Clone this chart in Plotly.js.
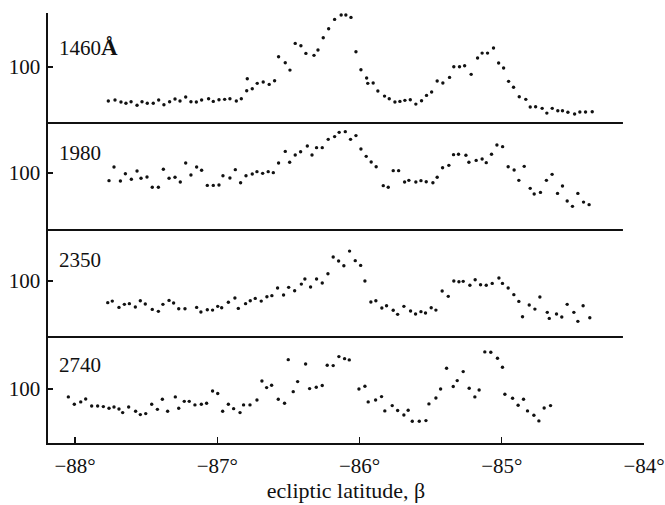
<!DOCTYPE html>
<html>
<head>
<meta charset="utf-8">
<script src="https://cdn.plot.ly/plotly-3.0.1.min.js"></script>
<style>html,body{margin:0;padding:0;background:#fff;}#chart{width:665px;height:505px;}</style>
</head>
<body>
<div id="chart"></div>
<script>
// ---- data (ecliptic latitude in degrees, relative intensity; "100" marks the reference level) ----
var panelLabels = ['1460<span style="font-size:23px"><b>Å</b></span>', '1980', '2350', '2740'];
var xTickVals = [-88, -87, -86, -85, -84];
var xTickText = ['\u221288\u00b0', '\u221287\u00b0', '\u221286\u00b0', '\u221285\u00b0', '\u221284\u00b0'];
var yTickVals = [100];
var yTickText = ['100'];

var beta1460 = [-87.766,-87.719,-87.677,-87.642,-87.606,-87.564,-87.529,-87.492,-87.450,-87.412,
 -87.375,-87.335,-87.297,-87.262,-87.222,-87.185,-87.147,-87.110,-87.061,-87.028,
 -86.988,-86.948,-86.911,-86.866,-86.831,-86.793,-86.789,-86.754,-86.719,-86.677,
 -86.635,-86.597,-86.569,-86.522,-86.489,-86.452,-86.412,-86.377,-86.320,-86.292,
 -86.255,-86.217,-86.175,-86.129,-86.096,-86.060,-86.025,
 -85.990,-85.950,-85.942,-85.904,-85.871,-85.824,-85.791,-85.751,-85.716,-85.681,
 -85.643,-85.604,-85.564,-85.529,-85.493,-85.454,-85.414,-85.367,-85.337,-85.297,
 -85.261,-85.215,-85.170,-85.138,-85.100,-85.058,-85.022,-84.987,-84.952,-84.917,
 -84.877,-84.831,-84.800,-84.762,-84.716,-84.683,-84.645,-84.606,-84.573,-84.535,
 -84.488,-84.451,-84.411,-84.364];
var int1460 = [69.8,70.7,68.9,67.8,69.2,66.0,69.2,67.8,67.8,70.7,
 66.5,69.2,71.6,69.8,73.4,69.2,68.9,70.7,71.9,69.5,
 71.0,71.3,71.9,69.8,71.9,79.0,89.6,80.7,85.5,86.7,
 84.6,87.8,109.2,103.8,97.3,121.0,118.9,112.1,110.4,115.1,
 126.0,134.0,142.3,146.2,146.2,144.1,113.6,
 97.6,90.2,85.5,85.8,78.7,74.2,71.9,68.9,69.5,70.4,
 71.0,67.1,70.1,74.8,77.8,87.6,85.8,90.8,100.3,100.3,
 101.2,93.5,108.0,112.4,112.4,116.9,103.6,99.1,87.3,82.0,
 73.6,71.3,64.5,64.7,63.3,59.1,63.3,61.2,61.2,59.8,
 58.3,60.0,60.0,60.3];

var beta1980 = [-87.761,-87.726,-87.681,-87.646,-87.604,-87.564,-87.536,-87.494,-87.457,-87.414,
 -87.379,-87.339,-87.297,-87.260,-87.222,-87.185,-87.145,-87.110,-87.070,-87.028,
 -86.988,-86.960,-86.911,-86.873,-86.836,-86.798,-86.754,-86.721,-86.681,-86.642,
 -86.606,-86.569,-86.522,-86.491,-86.452,-86.414,-86.367,-86.334,-86.302,-86.262,
 -86.220,-86.175,-86.143,-86.100,-86.063,-86.025,
 -85.990,-85.953,-85.918,-85.883,-85.833,-85.798,-85.763,-85.725,-85.683,-85.653,
 -85.604,-85.568,-85.531,-85.484,-85.454,-85.416,-85.372,-85.339,-85.304,-85.252,
 -85.231,-85.180,-85.138,-85.109,-85.072,-85.034,-84.994,-84.955,-84.913,-84.880,
 -84.842,-84.800,-84.772,-84.728,-84.686,-84.646,-84.608,-84.573,-84.540,-84.503,
 -84.465,-84.425,-84.386];
var int1980 = [93.2,105.3,92.9,99.4,94.4,101.8,95.3,96.4,87.3,87.3,
 103.3,95.3,96.2,92.0,108.9,98.2,105.3,102.4,89.0,89.0,
 89.3,97.6,95.6,103.0,91.4,97.6,99.1,101.2,99.7,101.2,
 100.3,108.9,119.2,109.5,116.0,118.9,124.0,116.0,122.5,122.5,
 129.9,132.3,136.1,136.7,129.9,133.2,
 121.3,114.8,109.8,105.6,88.8,87.3,102.1,102.1,92.0,93.5,
 92.0,93.2,92.3,91.4,96.2,104.7,106.8,116.3,116.6,115.7,
 109.5,111.2,112.4,109.2,116.6,124.9,123.4,105.6,102.7,93.5,
 105.9,86.4,81.4,82.8,93.5,98.8,81.9,88.5,75.1,70.4,
 81.9,74.2,71.9];

var beta2350 = [-87.770,-87.738,-87.691,-87.653,-87.618,-87.576,-87.541,-87.506,-87.457,-87.414,
 -87.382,-87.339,-87.307,-87.271,-87.227,-87.145,-87.115,-87.070,-87.033,-86.997,
 -86.969,-86.922,-86.876,-86.852,-86.801,-86.768,-86.733,-86.691,-86.651,-86.616,
 -86.576,-86.534,-86.498,-86.456,-86.409,-86.384,-86.344,-86.302,-86.262,-86.222,
 -86.185,-86.147,-86.110,-86.070,-86.030,
 -85.992,-85.962,-85.920,-85.885,-85.843,-85.810,-85.763,-85.732,-85.688,-85.641,
 -85.606,-85.568,-85.536,-85.496,-85.463,-85.419,-85.376,-85.337,-85.301,-85.271,
 -85.224,-85.187,-85.149,-85.109,-85.067,-85.020,-84.995,-84.955,-84.915,-84.880,
 -84.854,-84.807,-84.767,-84.732,-84.680,-84.666,-84.615,-84.578,-84.540,-84.493,
 -84.465,-84.428,-84.381];
var int2350 = [80.8,82.2,76.6,79.3,79.9,76.9,82.5,79.6,74.8,73.1,
 79.3,82.8,80.5,75.4,75.4,76.6,72.5,74.5,74.2,77.5,
 76.3,81.1,84.9,75.7,79.9,82.5,84.6,82.2,86.1,87.0,
 93.8,87.6,94.4,91.4,97.3,101.8,94.7,101.8,98.2,106.5,
 121.3,117.8,113.6,126.6,118.1,
 113.9,100.0,81.4,82.5,76.0,78.1,74.0,70.4,77.5,73.4,
 70.7,72.8,71.6,76.3,74.2,91.1,86.4,100.0,99.4,99.7,
 96.2,101.2,96.7,96.2,97.9,102.7,97.9,93.8,87.9,81.9,
 68.3,78.7,75.1,85.8,72.2,66.8,70.7,68.0,79.3,72.2,
 64.2,78.1,67.4];

var beta2740 = [-88.047,-88.005,-87.960,-87.925,-87.883,-87.841,-87.801,-87.761,-87.726,-87.691,
 -87.665,-87.623,-87.574,-87.541,-87.503,-87.461,-87.421,-87.386,-87.349,-87.295,
 -87.271,-87.232,-87.197,-87.157,-87.112,-87.075,-87.033,-86.997,-86.962,-86.922,
 -86.885,-86.840,-86.815,-86.770,-86.721,-86.686,-86.653,-86.618,-86.571,-86.527,
 -86.501,-86.466,-86.435,-86.379,-86.351,-86.304,-86.262,-86.227,-86.185,-86.145,
 -86.105,-86.072,-86.004,
 -85.962,-85.939,-85.887,-85.845,-85.822,-85.770,-85.732,-85.688,-85.658,-85.629,
 -85.580,-85.533,-85.512,-85.463,-85.430,-85.388,-85.341,-85.313,-85.271,-85.229,
 -85.189,-85.159,-85.119,-85.077,-85.030,-84.995,-84.978,-84.924,-84.885,-84.847,
 -84.819,-84.774,-84.739,-84.702,-84.657];
var int2740 = [92.9,86.4,88.5,91.1,84.9,84.9,84.3,82.8,84.0,82.2,
 79.0,84.0,80.2,77.2,78.1,86.4,81.9,90.8,80.2,92.9,
 82.8,89.0,89.0,85.8,86.4,87.3,98.2,95.9,80.2,86.4,
 82.5,79.0,85.8,85.8,90.2,107.1,101.2,103.3,90.8,87.3,
 126.0,97.6,106.5,122.2,100.3,101.5,103.0,121.0,120.7,128.7,
 126.9,125.8,100.0,
 102.4,88.5,90.2,93.2,80.5,85.2,80.8,76.9,81.1,71.3,
 71.3,71.9,86.7,92.0,100.0,118.4,102.1,107.4,115.4,100.6,
 92.9,99.1,132.9,132.6,127.2,119.2,95.3,91.7,85.5,90.8,
 80.5,76.6,71.6,83.1,85.2];

var betaSeries = [beta1460, beta1980, beta2350, beta2740];
var intSeries = [int1460, int1980, int2350, int2740];

// ---- presentation ----
var FONT = '"Liberation Serif", "DejaVu Serif", serif';
var yNames = ['y', 'y2', 'y3', 'y4'];
var domains = [[0.7442, 1.0], [0.4953, 0.7442], [0.2465, 0.4953], [0.0, 0.2465]];
var ranges = [[50.3, 148.0], [49.4, 144.4], [50.3, 145.3], [52.0, 146.1]];
var labelY = [117.8, 118.2, 118.6, 121.3];

var traces = betaSeries.map(function (bx, i) {
  return {
    type: 'scatter', mode: 'markers',
    x: bx, y: intSeries[i],
    xaxis: 'x', yaxis: yNames[i],
    cliponaxis: false,
    marker: {color: '#111', size: 3.4},
    hoverinfo: 'skip', showlegend: false
  };
});

var layout = {
  width: 665, height: 505,
  margin: {l: 48, r: 21, t: 13, b: 62},
  paper_bgcolor: '#fff', plot_bgcolor: '#fff',
  font: {family: FONT, color: '#111', size: 20},
  showlegend: false,
  xaxis: {
    anchor: 'y4', domain: [0, 1],
    range: [-88.19, -84.0],
    tickmode: 'array', tickvals: xTickVals, ticktext: xTickText,
    ticks: 'inside', ticklen: 6, tickwidth: 1.3, tickcolor: '#111',
    showline: true, linecolor: '#111', linewidth: 1.6,
    showgrid: false, zeroline: false,
    tickfont: {family: FONT, size: 21, color: '#111'},
    ticklabelstandoff: 3,
    title: {text: 'ecliptic latitude, \u03b2', font: {family: FONT, size: 22, color: '#111'}, standoff: 6}
  },
  shapes: [],
  annotations: []
};

yNames.forEach(function (yn, i) {
  var key = i === 0 ? 'yaxis' : 'yaxis' + (i + 1);
  layout[key] = {
    domain: domains[i], range: ranges[i], anchor: 'x',
    tickmode: 'array', tickvals: yTickVals, ticktext: yTickText,
    ticks: 'inside', ticklen: 5, tickwidth: 1.3, tickcolor: '#111',
    showline: true, linecolor: '#111', linewidth: 1.6,
    showgrid: false, zeroline: false,
    tickfont: {family: FONT, size: 21, color: '#111'},
    ticklabelstandoff: 2
  };
  layout.annotations.push({
    xref: 'paper', yref: yn, x: 0.015, y: labelY[i],
    xanchor: 'left', yanchor: 'middle', showarrow: false,
    text: panelLabels[i], font: {family: FONT, size: 21, color: '#111'}
  });
  if (i < 3) {
    layout.shapes.push({
      type: 'line', xref: 'x', yref: 'paper',
      x0: -88.19, x1: -84.148, y0: domains[i][0], y1: domains[i][0],
      line: {color: '#111', width: 1.8}
    });
  }
});

Plotly.newPlot('chart', traces, layout, {staticPlot: true, displayModeBar: false});
</script>
</body>
</html>
